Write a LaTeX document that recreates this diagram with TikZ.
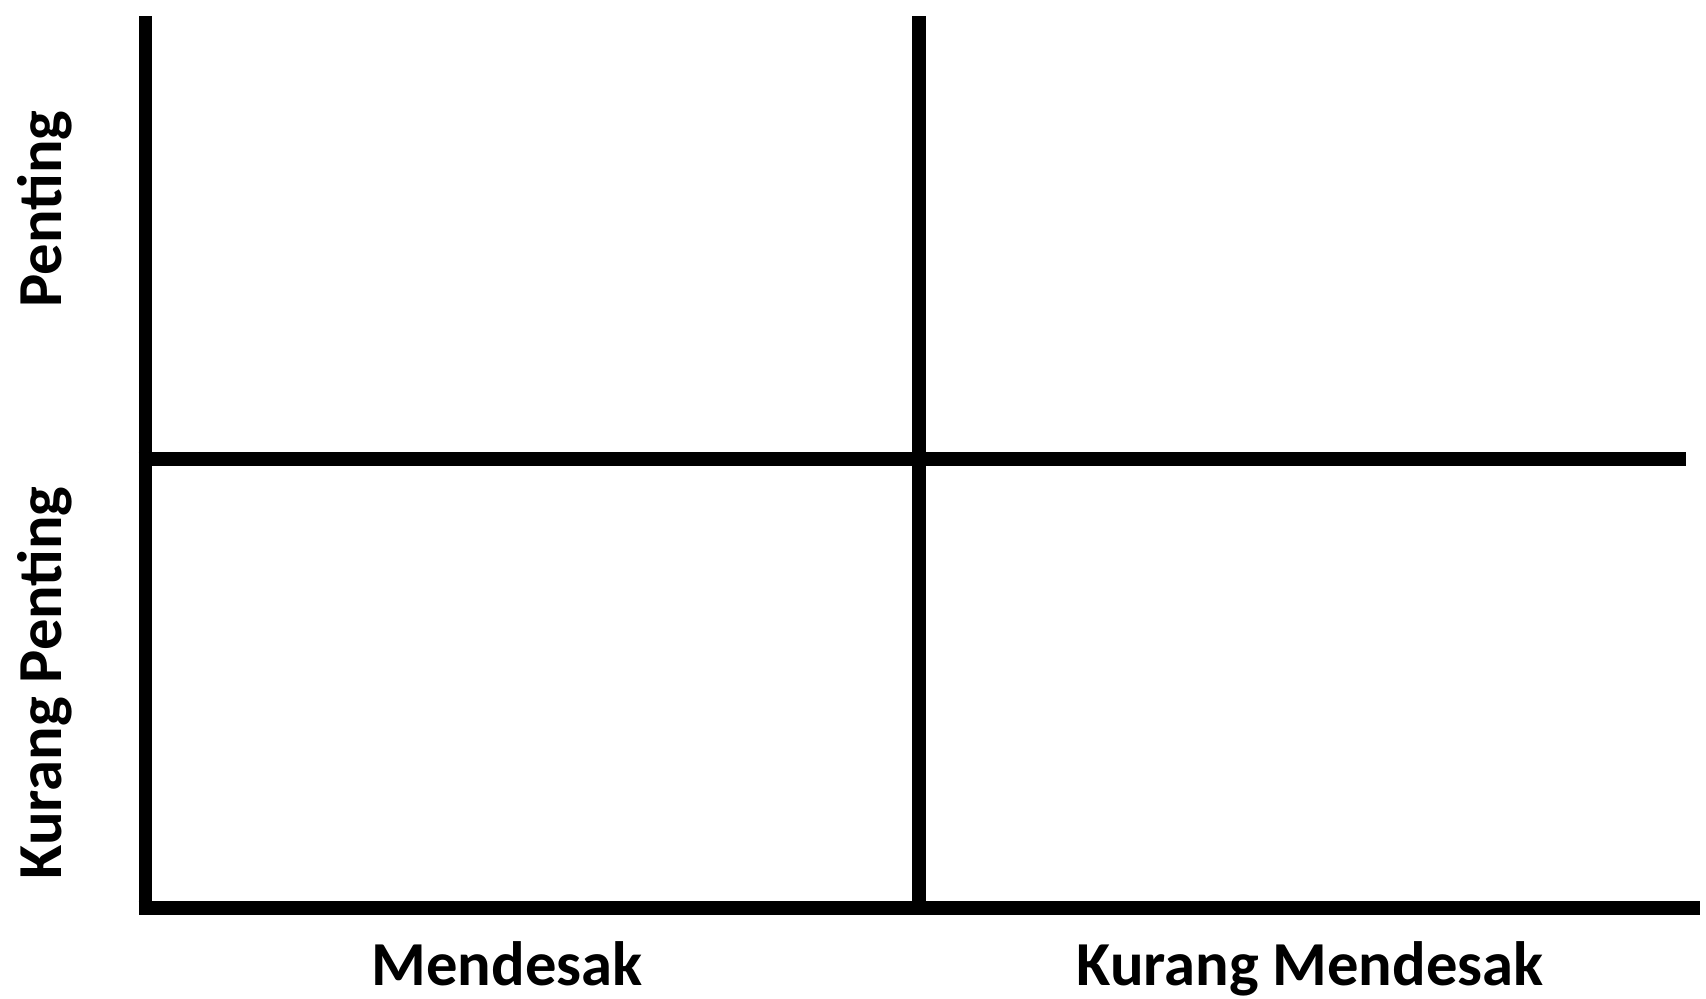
\documentclass[tikz,border=0pt]{standalone}
\usepackage{fontspec}
\setmainfont{Carlito}
\usetikzlibrary{positioning}

\begin{document}
\begin{tikzpicture}[
  x=0.5pt,y=-0.5pt,
  axis/.style={line width=6.8pt,black},
  lab/.style={font=\fontsize{31.3}{37}\selectfont\bfseries,inner sep=0pt,anchor=base}
]
\useasboundingbox (0,0) rectangle (1706,998);

\coordinate (lt) at (145.5,16);
\coordinate (lb) at (145.5,914);
\coordinate (mt) at (919,16);
\coordinate (mb) at (919,914);
\coordinate (hl) at (138.7,458.7);
\coordinate (hr) at (1686,458.7);
\coordinate (bl) at (138.7,907.7);
\coordinate (br) at (1700,907.7);

\draw[axis] (lt) -- (lb);
\draw[axis] (mt) -- (mb);
\draw[axis] (hl) -- (hr);
\draw[axis] (bl) -- (br);

\node[lab] (urg)   at (507,985.5) {Mendesak};
\node[lab] (nurg)  at (1310,985.5) {Kurang Mendesak};
\node[lab,rotate=90] (imp)  at (61.5,209) {Penting};
\node[lab,rotate=90] (nimp) at (61.5,683) {Kurang Penting};
\end{tikzpicture}
\end{document}
